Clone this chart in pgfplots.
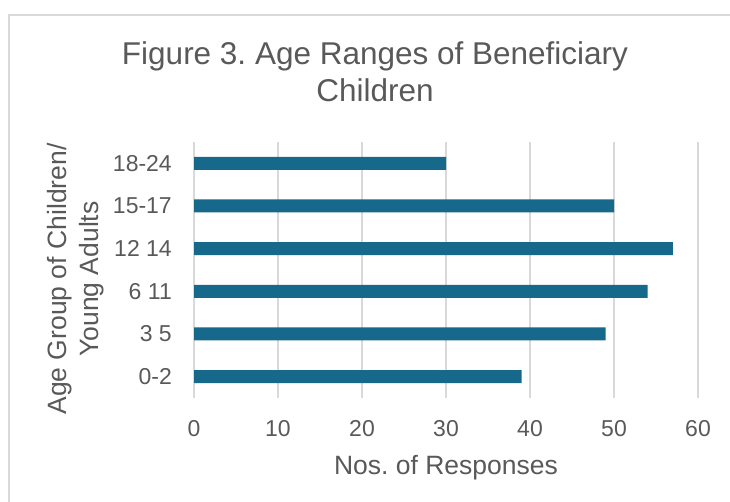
\documentclass[border=0pt]{standalone}
\usepackage{fontspec}
\setmainfont{Liberation Sans}
\usepackage{pgfplots}
\pgfplotsset{compat=1.18}
\definecolor{barblue}{RGB}{22,105,138}
\definecolor{txtgray}{RGB}{89,89,89}
\definecolor{gridgray}{RGB}{217,217,217}
\frenchspacing
\begin{document}
\begin{tikzpicture}[x=1pt,y=1pt]
\useasboundingbox (0,0) rectangle (730,502);
% chart frame
\draw[gridgray, line width=1.5pt] (9,0) -- (9,487) -- (730,487);
\begin{axis}[
  at={(194pt,104pt)}, anchor=south west,
  scale only axis, width=504pt, height=256pt,
  xbar, bar width=13pt,
  xmin=0, xmax=60, ymin=-0.5, ymax=5.5,
  xtick={0,10,...,60},
  ytick={0,...,5},
  yticklabels={0-2,3 5,6 11,12 14,15-17,18-24},
  axis line style={draw=none},
  major tick length=0pt,
  xmajorgrids, grid style={gridgray, line width=1.5pt},
  ticklabel style={font=\fontsize{23}{27}\selectfont, text=txtgray},
  xticklabel style={anchor=north, inner sep=0pt, text height=16.5pt, yshift=-22pt},
  yticklabel style={anchor=east, inner sep=0pt, xshift=-22pt},
  /pgf/number format/assume math mode=true,
  xlabel={Nos. of Responses},
  xlabel style={at={(axis description cs:0.5,0)}, anchor=base, yshift=-77pt,
    font=\fontsize{26.5}{31}\selectfont, text=txtgray, inner sep=0pt},
]
\addplot[fill=barblue, draw=none] coordinates {(39,0) (49,1) (54,2) (57,3) (50,4) (30,5)};
\end{axis}
% title
\node[anchor=base, inner sep=0pt, text=txtgray, font=\fontsize{31.5}{37}\selectfont] at (375,437) {Figure 3. Age Ranges of Beneficiary};
\node[anchor=base, inner sep=0pt, text=txtgray, font=\fontsize{31.5}{37}\selectfont] at (375,400) {Children};
% vertical axis title
\node[anchor=base, rotate=90, inner sep=0pt, text=txtgray, font=\fontsize{26.5}{31}\selectfont] at (66.5,223) {Age Group of Children/};
\node[anchor=base, rotate=90, inner sep=0pt, text=txtgray, font=\fontsize{26.5}{31}\selectfont] at (98,223) {Young Adults};
\end{tikzpicture}
\end{document}
